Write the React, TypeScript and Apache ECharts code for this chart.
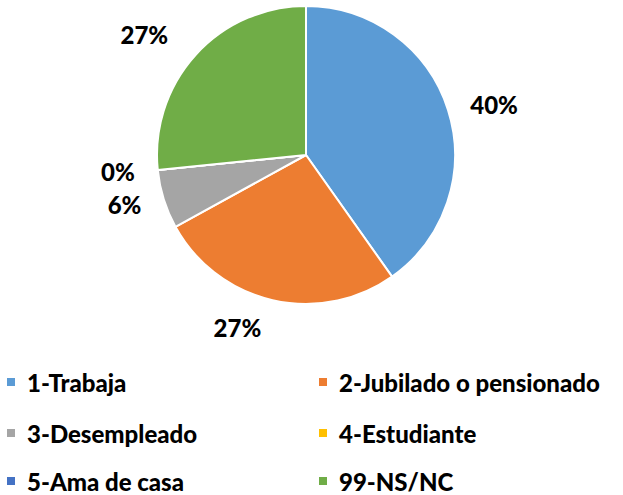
import React, { useEffect, useRef } from "react";
import * as echarts from "echarts";

const categories = [
  "1-Trabaja",
  "2-Jubilado o pensionado",
  "3-Desempleado",
  "4-Estudiante",
  "5-Ama de casa",
  "99-NS/NC",
];
const values = [40.2, 26.8, 6.4, 0, 0, 26.6];
const colors = ["#5B9BD5", "#ED7D31", "#A5A5A5", "#FFC000", "#4472C4", "#70AD47"];

const FONT = "Lato, 'Open Sans', sans-serif";

// legend layout: two columns, three rows (order follows categories)
const legendCols = [0, 312];
const legendRows = [364, 415, 463];
// per-slice label line length tweaks (styling only)
const labelLen: Record<string, number> = { "2-Jubilado o pensionado": 28, "99-NS/NC": 30 };

export default function App() {
  const ref = useRef<HTMLDivElement>(null);
  useEffect(() => {
    document.body.style.margin = "0";
    const chart = echarts.init(ref.current!, null, { renderer: "svg" });
    const legends = categories.map((c, i) => ({
      orient: "horizontal" as const,
      left: legendCols[i % 2],
      top: legendRows[Math.floor(i / 2)],
      itemWidth: 10,
      itemHeight: 10,
      icon: "rect",
      selectedMode: false,
      data: [c],
      textStyle: {
        fontFamily: FONT,
        fontWeight: 900,
        fontSize: 24,
        color: "#000",
        lineHeight: 26,
        padding: [0, 0, 0, 6],
      },
    }));
    chart.setOption({
      animation: false,
      color: colors,
      legend: legends,
      series: [
        {
          type: "pie",
          center: [306, 155],
          radius: 149,
          startAngle: 90,
          clockwise: true,
          avoidLabelOverlap: false,
          itemStyle: { borderColor: "#fff", borderWidth: 2 },
          label: {
            show: true,
            position: "outside",
            fontFamily: FONT,
            fontWeight: 900,
            fontSize: 24,
            color: "#000",
            formatter: (p: any) => Math.round(p.percent) + "%",
          },
          labelLine: { show: false, length: 16, length2: 2 },
          emphasis: { disabled: true },
          data: categories.map((c, i) => ({
            name: c,
            value: values[i],
            ...(labelLen[c] ? { labelLine: { show: false, length: labelLen[c], length2: 0 } } : {}),
          })),
        },
      ],
    });
    return () => chart.dispose();
  }, []);
  return <div ref={ref} style={{ width: 623, height: 495 }} />;
}
